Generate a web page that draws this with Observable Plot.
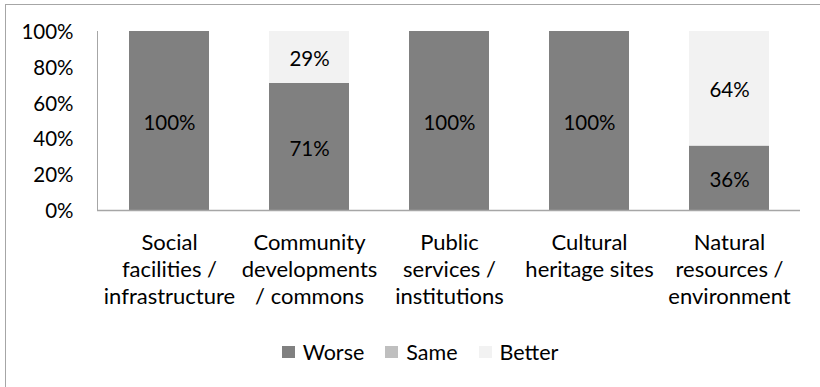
<!DOCTYPE html>
<html>
<head>
<meta charset="utf-8">
<script src="https://cdn.jsdelivr.net/npm/d3@7"></script>
<script src="https://cdn.jsdelivr.net/npm/@observablehq/plot@0.6"></script>
<style>
  html, body { margin: 0; padding: 0; background: #fff; overflow: hidden; }
  #wrap { position: relative; width: 820px; height: 387px; overflow: hidden; font-family: Lato, "Open Sans", sans-serif; }
  #border { position: absolute; left: 5px; top: 4px; width: 900px; height: 500px; border: 1.5px solid #a6a6a6; box-sizing: border-box; }
  #chart { position: absolute; left: 0; top: 0; }
  #legend { position: absolute; left: 0; top: 338px; width: 820px; display: flex; justify-content: center; gap: 21px; font-size: 21.5px; line-height: 28px; color: #000; padding-left: 20px; box-sizing: border-box; }
  #legend .item { display: flex; align-items: center; gap: 8px; }
  #legend .sw { width: 13px; height: 12px; display: inline-block; }
</style>
</head>
<body>
<div id="wrap">
  <div id="border"></div>
  <div id="chart"></div>
  <div id="legend"></div>
</div>
<script>
const categories = [
  "Social\nfacilities /\ninfrastructure",
  "Community\ndevelopments\n/ commons",
  "Public\nservices /\ninstitutions",
  "Cultural\nheritage sites",
  "Natural\nresources /\nenvironment"
];
const seriesNames = ["Worse", "Same", "Better"];
const seriesColors = ["#808080", "#bfbfbf", "#f2f2f2"];
const worse = [1.00, 0.71, 1.00, 1.00, 0.36];
const same = [0, 0, 0, 0, 0];
const better = [0, 0.29, 0, 0, 0.64];
const yTicks = [0, 0.2, 0.4, 0.6, 0.8, 1.0];

const seriesValues = [worse, same, better];
const data = [];
seriesNames.forEach((s, si) => {
  categories.forEach((c, ci) => {
    data.push({category: c, series: s, value: seriesValues[si][ci]});
  });
});
const labeled = data.filter(d => d.value > 0);

const chart = Plot.plot({
  width: 820,
  height: 330,
  marginLeft: 97,
  marginRight: 20,
  marginTop: 31,
  marginBottom: 120,
  style: {fontFamily: "Lato, 'Open Sans', sans-serif", fontSize: "20px", color: "#000", background: "transparent"},
  x: {domain: categories, paddingInner: 0.431, paddingOuter: 0.2155, axis: null},
  y: {domain: [0, 1], axis: null},
  color: {domain: seriesNames, range: seriesColors},
  marks: [
    Plot.barY(data, Plot.stackY({x: "category", y: "value", fill: "series", order: seriesNames})),
    Plot.text(labeled, Plot.stackY({x: "category", y: "value", z: "series", order: seriesNames, text: d => Math.round(d.value * 100) + "%", fill: "#000", fontSize: 20.5, dy: 2})),
    Plot.axisY({ticks: yTicks, tickFormat: d => Math.round(d * 100) + "%", tickSize: 0, tickPadding: 24, fontSize: 20.5, fill: "#000", label: null, dy: 1}),
    Plot.axisX({tickSize: 0, tickPadding: 20, fontSize: 22, lineHeight: 1.227, fill: "#000", lineAnchor: "top", label: null}),
    Plot.frame({anchor: "left", stroke: "#a6a6a6"}),
    Plot.ruleY([0], {stroke: "#a6a6a6", strokeWidth: 1.5})
  ]
});
document.getElementById("chart").appendChild(chart);

const legend = document.getElementById("legend");
seriesNames.forEach((s, i) => {
  const item = document.createElement("div");
  item.className = "item";
  const sw = document.createElement("span");
  sw.className = "sw";
  sw.style.background = seriesColors[i];
  const t = document.createElement("span");
  t.textContent = s;
  item.appendChild(sw);
  item.appendChild(t);
  legend.appendChild(item);
});
</script>
</body>
</html>
